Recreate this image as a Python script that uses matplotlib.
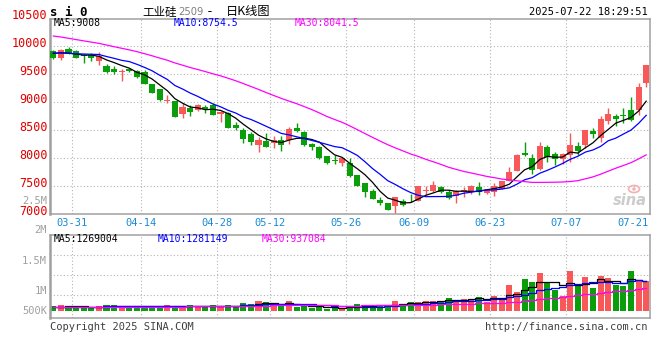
import matplotlib
matplotlib.use("Agg")
import matplotlib.pyplot as plt
from matplotlib.patches import Ellipse
import numpy as np
import pandas as pd

W, H = 660, 360
MONO = "DejaVu Sans Mono"
CJK = ["Noto Sans CJK SC", "DejaVu Sans"]
RED, GREEN = "#f85858", "#0a9e0a"
GRID = "#b4b4b4"
FRAME = "#a0a0a0"

# trading days on the chart (exchange holidays removed)
holidays = ["2025-04-04", "2025-05-01", "2025-05-02", "2025-05-05", "2025-06-02"]
dates = [d for d in pd.bdate_range("2025-03-26", "2025-07-21")
         if d.strftime("%Y-%m-%d") not in holidays]
date_labels = ["03-31", "04-14", "04-28", "05-12", "05-26",
               "06-09", "06-23", "07-07", "07-21"]

opens = [9911, 9780, 9952, 9911, 9830, 9839, 9732, 9649, 9595, 9542,
         9595, 9554, 9536, 9316, 9226, 9024, 9018, 8792, 8887, 8857,
         8917, 8940, 8792, 8798, 8590, 8506, 8435, 8238, 8298, 8268,
         8327, 8315, 8542, 8470, 8244, 8196, 8042, 7964, 7917, 7911,
         7690, 7554, 7405, 7244, 7202, 7137, 7238, 7286, 7238, 7411,
         7405, 7488, 7387, 7316, 7387, 7393, 7482, 7381, 7393, 7452,
         7595, 7774, 8095, 8000, 7810, 8196, 8077, 7982, 8060, 8220,
         8238, 8488, 8357, 8655, 8756, 8750, 8863, 8857, 9345]
highs = [9923, 9952, 9988, 9920, 9863, 9875, 9899, 9685, 9649, 9583,
         9610, 9571, 9571, 9316, 9226, 9131, 9024, 8976, 8940, 8970,
         8940, 8976, 8840, 8828, 8643, 8542, 8470, 8381, 8447, 8387,
         8393, 8554, 8631, 8482, 8274, 8208, 8042, 8048, 8006, 8006,
         7702, 7554, 7452, 7298, 7202, 7310, 7262, 7357, 7506, 7494,
         7595, 7506, 7435, 7435, 7482, 7524, 7571, 7452, 7554, 7595,
         7833, 8071, 8286, 8071, 8286, 8226, 8100, 8083, 8446, 8286,
         8494, 8536, 8750, 8893, 8786, 8893, 9083, 9333, 9667]
lows = [9768, 9744, 9850, 9780, 9702, 9732, 9661, 9518, 9506, 9375,
        9540, 9435, 9316, 9155, 9018, 8982, 8738, 8720, 8744, 8845,
        8810, 8762, 8643, 8530, 8494, 8274, 8226, 8113, 8202, 8173,
        8131, 8256, 8470, 8214, 8137, 7988, 7899, 7899, 7863, 7661,
        7494, 7298, 7262, 7167, 7066, 7018, 7137, 7214, 7226, 7345,
        7393, 7375, 7268, 7196, 7300, 7363, 7345, 7363, 7316, 7440,
        7583, 7762, 8030, 7714, 7792, 7929, 7881, 7893, 7929, 8060,
        8180, 8357, 8286, 8613, 8577, 8625, 8655, 8774, 9274]
closes = [9780, 9935, 9863, 9780, 9821, 9785, 9821, 9542, 9542, 9554,
          9554, 9452, 9316, 9167, 9030, 9036, 8738, 8917, 8828, 8952,
          8875, 8774, 8816, 8542, 8542, 8333, 8292, 8327, 8202, 8327,
          8226, 8512, 8482, 8226, 8202, 7994, 7917, 7946, 7994, 7673,
          7506, 7387, 7262, 7190, 7077, 7310, 7155, 7280, 7506, 7417,
          7524, 7393, 7286, 7405, 7435, 7494, 7393, 7435, 7506, 7583,
          7744, 8048, 8060, 7792, 8220, 8018, 7982, 8066, 8238, 8131,
          8494, 8429, 8702, 8786, 8696, 8744, 8685, 9274, 9667]
# volume, millions of lots
volumes = [0.21, 0.25, 0.21, 0.15, 0.15, 0.15, 0.21, 0.25, 0.25, 0.21,
           0.21, 0.15, 0.21, 0.21, 0.21, 0.25, 0.21, 0.21, 0.25, 0.21,
           0.21, 0.25, 0.21, 0.25, 0.21, 0.35, 0.29, 0.42, 0.38, 0.21,
           0.25, 0.40, 0.15, 0.22, 0.13, 0.22, 0.10, 0.15, 0.10, 0.22,
           0.30, 0.22, 0.20, 0.25, 0.25, 0.42, 0.29, 0.38, 0.38, 0.42,
           0.42, 0.43, 0.56, 0.47, 0.52, 0.47, 0.60, 0.39, 0.64, 0.54,
           1.09, 0.80, 1.33, 1.20, 1.58, 1.15, 0.87, 0.62, 1.67, 1.13,
           1.42, 0.96, 1.46, 1.38, 1.09, 1.04, 1.67, 1.29, 1.25]
# sessions before the window, estimated so the MA lines start where they do
pre_close = [10480, 10520, 10490, 10505, 10460, 10475, 10430, 10445, 10410, 10420,
             10380, 10395, 10310, 10250, 10200, 10180, 10120, 10060, 10030, 9990,
             9960, 9900, 9850, 9880, 9830, 9860, 9900, 9870, 9910]
pre_vol = [0.14, 0.16, 0.15, 0.13, 0.17, 0.15, 0.14, 0.16, 0.15, 0.18,
           0.14, 0.15, 0.16, 0.13, 0.15, 0.17, 0.14, 0.16, 0.15, 0.15,
           0.17, 0.14, 0.16, 0.15, 0.18, 0.16, 0.15, 0.17, 0.16]

price_ticks = [10500, 10000, 9500, 9000, 8500, 8000, 7500, 7000]
ma_windows = [5, 10, 30]
ma_colors = ["#000000", "#0000ff", "#ff00ff"]
price_ma_text = ["MA5:9008", "MA10:8754.5", "MA30:8041.5"]
vol_ma_text = ["MA5:1269004", "MA10:1281149", "MA30:937084"]


def fx(px):
    return px / W


def fy(py):
    return 1 - py / H


n = len(closes)
x = np.arange(n) + 0.5
o, hi, lo, c = (np.array(a, float) for a in (opens, highs, lows, closes))
v = np.array(volumes)
up = c >= o
cols = [RED if u else GREEN for u in up]
cs = pd.Series(pre_close + closes, dtype=float)
vs = pd.Series(pre_vol + volumes, dtype=float)
k = len(pre_close)

fig = plt.figure(figsize=(W / 100, H / 100), dpi=100)
ax = fig.add_axes([fx(49.5), fy(214), 600.5 / W, 195 / H])
axv = fig.add_axes([fx(49.5), fy(318), 600.5 / W, 83 / H])

grid_idx = [dates.index(pd.Timestamp("2025-" + d)) for d in date_labels]

for a in (ax, axv):
    a.set_xlim(0, n)
    a.set_xticks([])
    a.set_yticks([])
    for s in a.spines.values():
        s.set_color(FRAME)
        s.set_linewidth(1.1)
    a.spines["left"].set_linewidth(1.8)
    for gi in grid_idx[:-1]:
        a.axvline(gi, color=GRID, lw=0.8, ls=(0, (1, 2)), zorder=0)

# price panel
ax.set_ylim(7000, 10480)
for p in price_ticks[1:-1]:
    ax.axhline(p, color=GRID, lw=0.8, ls=(0, (1, 2)), zorder=0)
ax.vlines(x, lo, hi, colors=cols, lw=1, zorder=2)
body = np.maximum(np.abs(c - o), 14)
ax.bar(x, body, bottom=np.minimum(o, c), width=0.8, color=cols,
       linewidth=0, zorder=3)
for w, col in zip(ma_windows, ma_colors):
    ma = cs.rolling(w).mean().to_numpy()[k:]
    ax.plot(x, ma, color=col, lw=0.9, zorder=4)

for p in price_ticks:
    ax.text(-0.003, p + 40, str(p), transform=ax.get_yaxis_transform(),
            ha="right", va="center", color="#e00000", fontsize=8.5,
            family=MONO, clip_on=False)
for gi, lab in zip(grid_idx, date_labels):
    if lab == date_labels[-1]:
        ax.text(n - 0.2, -0.018, lab, transform=ax.get_xaxis_transform(),
                ha="right", va="top", color="#1a8ad4", fontsize=7.5, family=MONO)
    else:
        ax.text(gi, -0.018, lab, transform=ax.get_xaxis_transform(),
                ha="center", va="top", color="#1a8ad4", fontsize=7.5, family=MONO)
for txt, col, px in zip(price_ma_text, ma_colors, [54, 174, 295]):
    fig.text(fx(px), fy(23.5), txt, color=col, fontsize=7, family=MONO,
             va="center", ha="left")

# sina watermark
ax.text(0.995, 0.07, "sina", transform=ax.transAxes, ha="right", va="center",
        color="#cccccc", fontsize=10.5, style="italic", weight="bold")
fig.patches.append(Ellipse((fx(634), fy(189)), 11 / W, 7 / H, fill=False,
                           edgecolor="#f4b0b0", lw=1.2, transform=fig.transFigure))
fig.patches.append(Ellipse((fx(634), fy(189)), 3.5 / W, 3.5 / H,
                           facecolor="#f4b0b0", lw=0, transform=fig.transFigure))

# volume panel
axv.set_ylim(-0.29, 3.17)
for g in [2.333, 1.5, 0.667]:
    axv.axhline(g, color=GRID, lw=0.8, ls=(0, (1, 2)), zorder=0)
axv.bar(x, v, width=0.8, color=cols, linewidth=0, zorder=2)
for w, col in zip(ma_windows, ma_colors):
    ma = vs.rolling(w).mean().to_numpy()[k:]
    axv.plot(x, ma, color=col, lw=0.9, drawstyle="steps-mid", zorder=3)
for txt, col, px in zip(vol_ma_text, ma_colors, [54, 158, 262]):
    fig.text(fx(px), fy(239.5), txt, color=col, fontsize=7, family=MONO,
             va="center", ha="left")

for lab, py in [("2.5M", 200.5), ("2M", 230.5), ("1.5M", 260.5),
                ("1M", 290.5), ("500K", 310.5)]:
    fig.text(fx(47), fy(py), lab, color="#a0a0a0", fontsize=7.5, family=MONO,
             ha="right", va="center")

# header and footer
fig.text(fx(50), fy(12), "s i 0", fontsize=9, family=MONO, weight="bold",
         va="center", ha="left")
fig.text(fx(142), fy(11.5), "工业硅", fontsize=8.3, family=CJK, va="center", ha="left")
fig.text(fx(178.5), fy(12), "2509", fontsize=7.2, family="DejaVu Sans",
         color="#808080", va="center", ha="left")
fig.text(fx(206), fy(11.5), "-", fontsize=9.5, family=MONO, va="center", ha="left")
fig.text(fx(226), fy(11.5), "日K线图", fontsize=8.8, family=CJK,
         va="center", ha="left")
fig.text(fx(648), fy(12), "2025-07-22 18:29:51", fontsize=7.5, family=MONO,
         va="center", ha="right")
fig.text(fx(50), fy(327), "Copyright 2025 SINA.COM", fontsize=7.5, family=MONO,
         color="#404040", va="center", ha="left")
fig.text(fx(648), fy(327), "http://finance.sina.com.cn", fontsize=7.5, family=MONO,
         color="#404040", va="center", ha="right")

fig.savefig("out.png", dpi=100, facecolor="white")
